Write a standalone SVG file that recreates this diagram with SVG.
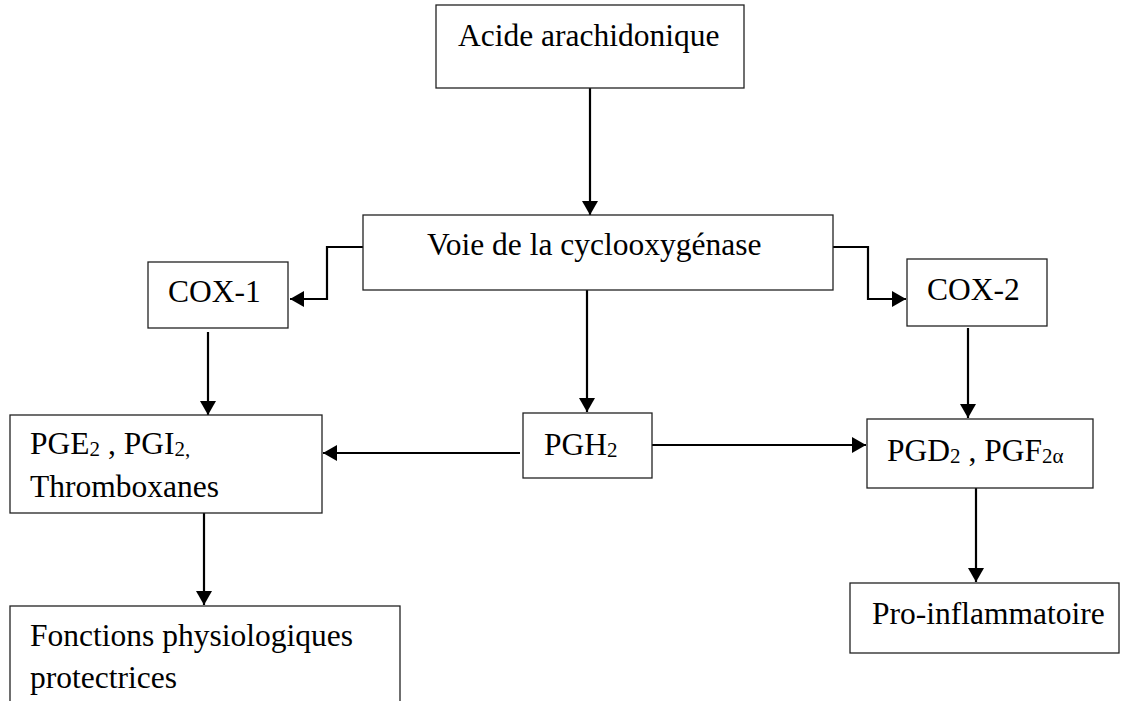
<svg xmlns="http://www.w3.org/2000/svg" width="1121" height="701" viewBox="0 0 1121 701">
<style>
.box{fill:#fff;stroke:#222;stroke-width:1.3}
.t{font-family:"Liberation Serif","Times New Roman",serif;font-size:31.5px;fill:#000}
.s{font-size:21px}
.c{fill:none;stroke:#000;stroke-width:2.2}
</style>
<defs>
<marker id="ah" markerUnits="userSpaceOnUse" viewBox="0 0 14 16" markerWidth="14" markerHeight="16" refX="14" refY="8" orient="auto">
<path d="M0,0 L14,8 L0,16 z" fill="#000"/>
</marker>
</defs>
<rect width="1121" height="701" fill="#fff"/>
<g id="connectors">
<path class="c" d="M590,88 V215" marker-end="url(#ah)"/>
<path class="c" d="M363,247 H327 V299 H290" marker-end="url(#ah)"/>
<path class="c" d="M833,247 H868 V299 H906" marker-end="url(#ah)"/>
<path class="c" d="M208,332 V415" marker-end="url(#ah)"/>
<path class="c" d="M968,328 V418" marker-end="url(#ah)"/>
<path class="c" d="M587,290 V412" marker-end="url(#ah)"/>
<path class="c" d="M520,453 H323" marker-end="url(#ah)"/>
<path class="c" d="M652,445 H866" marker-end="url(#ah)"/>
<path class="c" d="M204,513 V605" marker-end="url(#ah)"/>
<path class="c" d="M976,488 V582" marker-end="url(#ah)"/>
</g>
<g id="acide">
<rect class="box" x="436" y="5" width="308" height="83"/>
<text class="t" x="458" y="46">Acide arachidonique</text>
</g>
<g id="voie">
<rect class="box" x="363" y="215" width="470" height="75"/>
<text class="t" x="427" y="255">Voie de la cyclooxygénase</text>
</g>
<g id="cox1">
<rect class="box" x="148" y="262" width="140" height="66"/>
<text class="t" x="168" y="302">COX-1</text>
</g>
<g id="cox2">
<rect class="box" x="907" y="259" width="140" height="67"/>
<text class="t" x="927" y="300">COX-2</text>
</g>
<g id="pge2">
<rect class="box" x="10" y="415" width="312" height="98"/>
<text class="t" x="30" y="454">PGE<tspan class="s" dy="2">2</tspan><tspan dy="-2"> , PGI</tspan><tspan class="s" dy="2">2,</tspan></text>
<text class="t" x="30" y="497">Thromboxanes</text>
</g>
<g id="pgh2">
<rect class="box" x="523" y="413" width="129" height="65"/>
<text class="t" x="544" y="455">PGH<tspan class="s" dy="2">2</tspan></text>
</g>
<g id="pgd2">
<rect class="box" x="867" y="419" width="226" height="69"/>
<text class="t" x="887" y="461">PGD<tspan class="s" dy="2">2</tspan><tspan dy="-2"> , PGF</tspan><tspan class="s" dy="2">2α</tspan></text>
</g>
<g id="fonctions">
<rect class="box" x="10" y="606" width="390" height="110"/>
<text class="t" x="30" y="646">Fonctions physiologiques</text>
<text class="t" x="30" y="688">protectrices</text>
</g>
<g id="pro">
<rect class="box" x="850" y="583" width="269" height="70"/>
<text class="t" x="872" y="624">Pro-inflammatoire</text>
</g>
</svg>
